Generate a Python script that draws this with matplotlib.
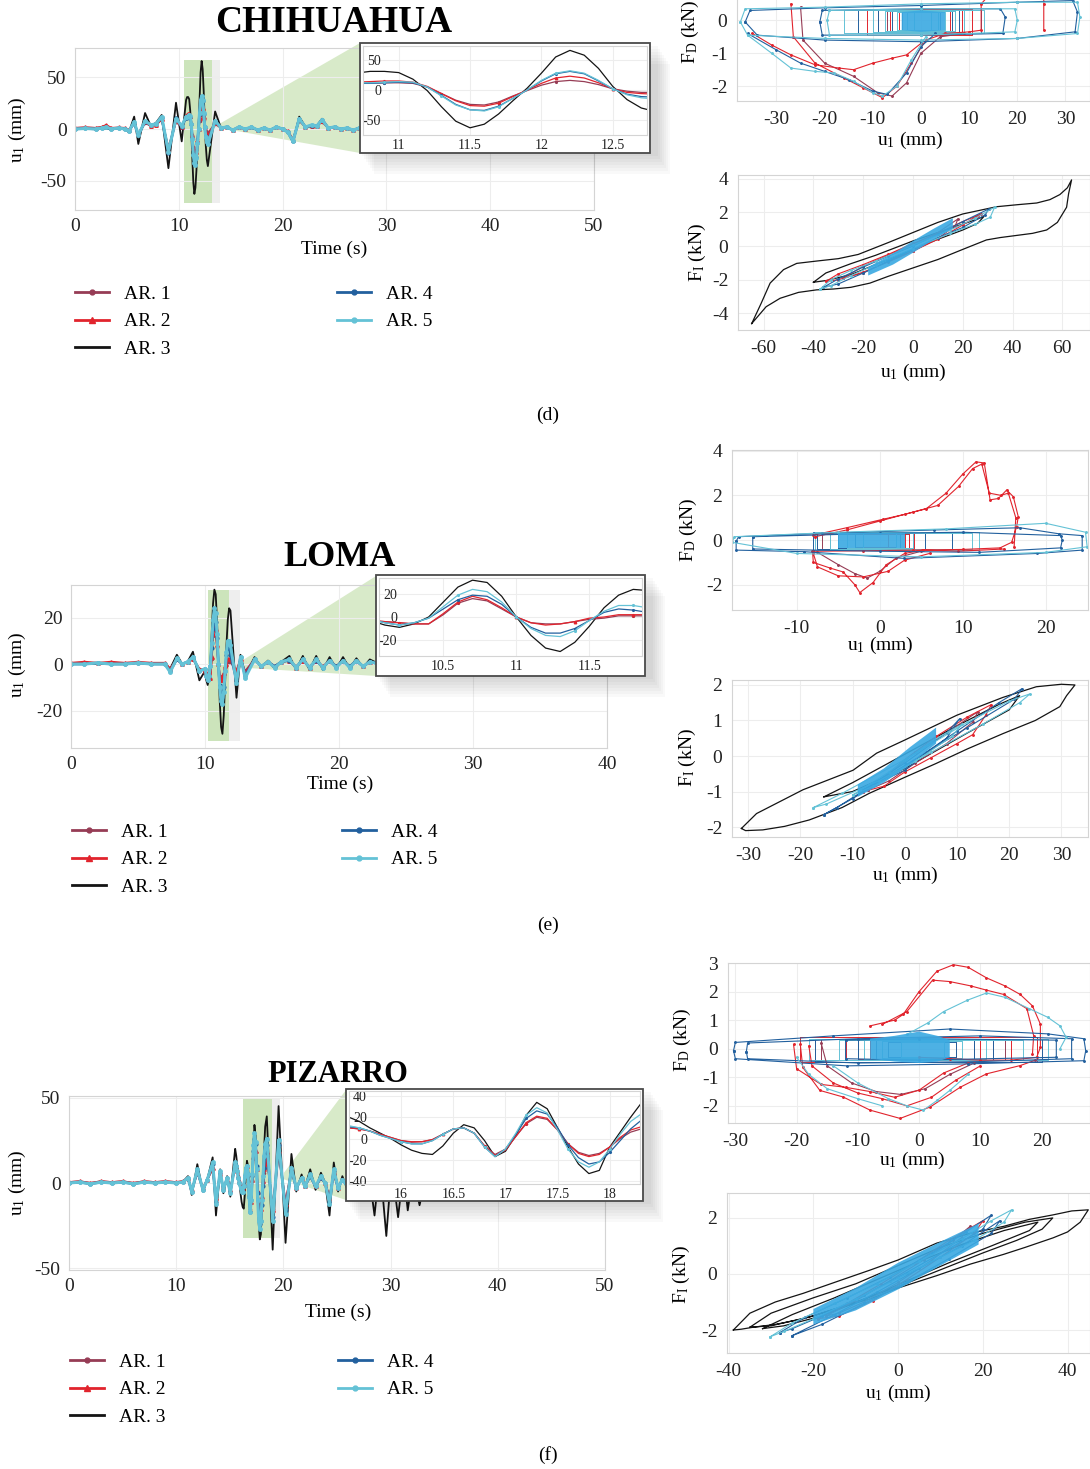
import numpy as np
import matplotlib
matplotlib.use("Agg")
import matplotlib.pyplot as plt
from matplotlib.lines import Line2D
from matplotlib.patches import Rectangle, Polygon

W, H = 1090, 1469
plt.rcParams['font.family'] = 'Liberation Serif'
plt.rcParams['mathtext.fontset'] = 'custom'
plt.rcParams['mathtext.rm'] = 'Liberation Serif'
plt.rcParams['axes.unicode_minus'] = False

C1, C2, C3, C4, C5 = '#963c55', '#e1242d', '#141414', '#22609e', '#64c2d6'
CORE = '#3aa9e2'
LABELS = ['AR. 1', 'AR. 2', 'AR. 3', 'AR. 4', 'AR. 5']

# ---------------- time histories u1 (mm) ----------------
chi_t = [0, 1, 2, 2.6, 3.0, 3.5, 4.2, 4.8, 5.2, 5.7, 6.1, 6.75, 7.3, 7.8, 8.35, 9.0, 9.73, 10.28,
         10.7, 10.8, 10.9, 11.0, 11.1, 11.2, 11.3, 11.4, 11.5, 11.6, 11.7, 11.8, 11.9, 12.0, 12.1, 12.2,
         12.3, 12.4, 12.5, 12.6, 12.7, 12.8,
         13.5, 14.1, 14.6, 15.2, 15.8, 16.4, 17.0, 17.6, 18.2, 18.8, 19.4, 20.0, 20.5, 21.0, 21.6, 22.2,
         22.8, 23.3, 23.8, 24.4, 25.0, 25.6, 26.2, 26.8, 27.4, 28.0, 30, 35, 40, 45, 50]
chi_ar3 = [0.5, 0, 0.5, 1, 0.5, 0, 1, 0, -3, 12, -14.5, 15.5, 3, 6, 13.6, -38, 25.5, -12,
           28, 31, 31, 29, 18, -1, -28, -52, -63, -57, -40, -18, 3, 28, 55, 66, 58, 36, 6, -16, -30, -36,
           17, 0, 2, -1, 2, 0, 2, -1, 1, -1, 2, 0, -3, -13, 12, 2, 4, 3, 10, 1, 2, 0, 1, -1, 1, 0, 1, 0, 0, 0, 0]
chi_ar5 = [0, 0.5, 0, 1, 2, 0, 1, 0, -2, 7, -6, 8, 4, 5, 12, -22, 10, 3,
           12, 12, 13, 14, 13, 5, -10, -25, -33, -35, -28, -14, 0, 16, 28, 32, 28, 16, 2, -8, -13, -15,
           8, 1, 2, -1, 2, 0, 2, -1, 1, -1, 2, 0, -3, -12, 10, 2, 4, 3, 9, 1, 2, 0, 1, -1, 1, 0, 1, 0, 0, 0, 0]
chi_ar4 = [0, 0.5, 0, 1, 1.5, 0, 1, 0, -2, 6, -6, 7, 4, 5, 11, -23, 11, 2,
           11, 11, 12, 13, 12, 5, -9, -24, -33, -34, -27, -14, 0, 15, 27, 31, 27, 15, 2, -7, -11, -12,
           7, 1, 2, -1, 2, 0, 1.5, -1, 1, -1, 2, 0, -3, -12, 10, 2, 3, 3, 9, 1, 2, 0, 1, -1, 1, 0, 1, 0, 0, 0, 0]
chi_ar2 = [1, 1.5, 1, 2, 4, 1, 1.5, 1, -1, 6, -5, 7, 3, 4, 10, -20, 8, 2,
           13, 14, 15, 15, 13, 6, -6, -18, -26, -27, -22, -11, 0, 11, 20, 23, 20, 12, 2, -4, -6, -7,
           6, 1, 2, -1, 2, 0, 1.5, -1, 1, -1, 2, 0, -2, -11, 9, 2, 3, 3, 8, 1, 2, 0, 1, -1, 1, 0, 1, 0, 0, 0, 0]
chi_ar1 = [1, 1.5, 1, 2, 3, 1, 1, 1, -1, 5, -5, 6, 3, 4, 9, -18, 7, 2,
           11, 12, 12, 12, 11, 5, -6, -17, -24, -25, -20, -10, -1, 8, 14, 16, 14, 9, 2, -2, -4, -4,
           5, 1, 2, -1, 2, 0, 1.5, -1, 1, -1, 2, 0, -2, -10, 8, 2, 3, 3, 7, 1, 2, 0, 1, -1, 1, 0, 1, 0, 0, 0, 0]

loma_t = [0, 1, 2, 3, 4, 5, 6, 7, 7.4, 7.9, 8.3, 8.7, 9.1, 9.58,
          10.0, 10.1, 10.2, 10.3, 10.4, 10.5, 10.6, 10.7, 10.8, 10.9, 11.0, 11.1, 11.2, 11.3, 11.4, 11.5,
          11.6, 11.7, 11.8, 11.9,
          12.35, 12.65, 13.0, 13.7, 14.2, 14.7, 15.2, 15.7, 16.3, 16.8, 17.3, 17.8, 18.3, 18.8, 19.3, 19.8,
          20.3, 20.8, 21.3, 21.8, 22.3, 23, 24, 25, 30, 35, 40]
loma_ar3 = [0, 0.5, 0, 0.5, 0, 0.5, 0, 0, -2, 4, 0, 1, 5.3, -7,
            -3, -7, -9, -6, 0, 13, 26, 32, 30, 18, 0, -16, -27, -30, -22, -8, 8, 19, 24, 23,
            -14.5, 4, -5, 3, -1.5, 1.5, -2, 1, 3.5, -2.5, 3.5, -2.5, 3.5, -2.5, 3, -2, 3, -2, 2.5, -1.5, 2, 0, 1, 0, 0, 0, 0]
loma_ar5 = [0, 0, 0.5, 0, 0, 0.5, 0, 0, -3.5, 2.5, 0, 1, 3, -3,
            -2, -5, -7, -5, -1, 9, 19, 24, 22, 13, 0, -10, -16, -17, -12, -3, 5, 10, 10, 8,
            -8, 3, -6, 2, -1, 1, -1.5, 1, 2, -1.5, 2, -1.5, 2, -1.5, 1.5, -1.5, 1.5, -1.5, 1.5, -1, 1, 0, 0.5, 0, 0, 0, 0]
loma_ar4 = [0, 0, 0.5, 0, 0, 0.5, 0, 0, -3, 2, 0, 1, 3, -3,
            -2, -5, -7, -5, -1, 7, 15, 19, 18, 11, 0, -9, -14, -14, -10, -3, 4, 7, 6, 4,
            -7, 3, -5, 2, -1, 1, -1, 1, 1.5, -1.5, 2, -1.5, 1.5, -1.5, 1.5, -1, 1.5, -1, 1.5, -1, 1, 0, 0, 0, 0, 0, 0]
loma_ar2 = [0.5, 1, 0.5, 1, 0.5, 1, 0.5, 0.5, -2, 2, 0, 1, 2, -2,
            -3, -4, -5, -6, -6, 3, 13, 18, 15, 8, 0, -5, -7, -6, -4, -1, 0, 2, 2, 2,
            -3, 2, -4, 2, -1, 1, -1, 1, 1.5, -1.5, 1.5, -1.5, 1.5, -1, 1.5, -1, 1.5, -1, 1.5, -1, 1, 0, 0, 0, 0, 0, 0]
loma_ar1 = [0.5, 0.5, 0.5, 0.5, 0.5, 0.5, 0.5, 0.5, -2, 2, 0, 1, 2, -2,
            -3, -4, -5, -6, -6, 2, 12, 16, 14, 7, 0, -5, -6, -6, -4, -2, -1, 1, 1, 1,
            -3, 2, -3, 2, -1, 1, -1, 1, 1.5, -1, 1.5, -1, 1.5, -1, 1, -1, 1, -1, 1, -1, 1, 0, 0, 0, 0, 0, 0]

piz_t = [0, 1, 2, 3, 4, 5, 6, 7, 8, 9, 10, 10.6, 11.1, 11.45, 11.97, 12.5, 12.9, 13.4, 13.71, 14.1, 14.4,
         14.75, 15.05,
         15.5, 15.6, 15.7, 15.8, 15.9, 16.0, 16.1, 16.2, 16.3, 16.4, 16.5, 16.6, 16.7, 16.8, 16.9, 17.0,
         17.1, 17.2, 17.3, 17.4, 17.5, 17.6, 17.7, 17.8, 17.9, 18.0, 18.1, 18.2, 18.3,
         18.45, 19.0, 19.55, 20.2, 20.75, 21.2, 21.7, 22.0, 22.5, 23.0, 23.5, 23.9, 24.3, 24.7, 25.1, 25.5,
         26.1, 26.7, 27.3, 27.9, 28.5, 29.0, 29.6, 30.1, 30.7, 31.2, 31.6, 32.1, 32.7, 33.3, 34, 36, 40, 45, 50]
piz_ar3 = [0, 0.5, -0.5, 1, 0, 0.5, -0.5, 0.5, 0, 0.5, 0, 0.5, 4, -7, 11, -5, 2, 15, -19, 8, -6, 4, -8,
           20, 16, 10, 5, 0, -6, -11, -14, -15, -7, 5, 13, 10, -2, -17, -12, 3, 22, 34, 28, 10, -8, -24, -33,
           -30, -8, 6, 20, 33,
           39, -39, 45, -35, 17, -5, 5, -3, 8, -4, 6, 0, -19, 12, -5, 4, -6, 8, -7, 10, -19, 12, -31, 10,
           -20, 8, -16, 6, -13, 4, -2, 1, 0, 0, 0]
piz_ar5 = [0, 0.5, -0.5, 0.5, 0, 0.5, -0.5, 0.5, 0, 0.5, 0, 0.5, 3, -5, 8, -4, 2, 12, -12, 7, -4, 3, -6,
           12, 10, 7, 3, 0, -3, -5, -5, -2, 4, 9, 10, 5, -8, -17, -10, 5, 22, 29, 24, 8, -10, -22, -27,
           -22, -10, 4, 16, 23,
           26, -22, 25, -18, 9, -3, 3, -2, 5, -2, 4, 0, -12, 8, -3, 2, -3, 3, -3, 3, -5, 4, -6, 3,
           -4, 2, -3, 2, -2, 1, -1, 0.5, 0, 0, 0]
piz_ar4 = [0, 0.5, -0.5, 0.5, 0, 0.5, -0.5, 0.5, 0, 0.5, 0, 0.5, 3, -5, 7, -4, 2, 11, -11, 6, -4, 3, -5,
           11, 10, 7, 3, 0, -3, -5, -5, -2, 4, 9, 10, 5, -8, -17, -10, 4, 19, 26, 23, 10, -6, -18, -24,
           -22, -13, -2, 9, 17,
           22, -20, 22, -16, 8, -3, 3, -2, 4, -2, 3, 0, -11, 7, -3, 2, -3, 3, -3, 3, -4, 3, -5, 3,
           -4, 2, -3, 2, -2, 1, -1, 0.5, 0, 0, 0]
piz_ar2 = [0.5, 1, 0, 1, 0.5, 1, 0, 1, 0.5, 1, 0.5, 1, 3, -4, 6, -3, 2, 9, -9, 5, -3, 2, -4,
           10, 9, 7, 4, 1, -2, -3, -3, -1, 4, 9, 10, 5, -7, -16, -11, 2, 15, 21, 19, 8, -5, -14, -17,
           -15, -8, 1, 8, 11,
           18, -16, 19, -12, 8, -3, 3, -2, 4, -2, 3, 0, -9, 6, -3, 2, -2, 2, -2, 2, -3, 2, -4, 2,
           -3, 2, -2, 1, -2, 1, -1, 0.5, 0, 0, 0]
piz_ar1 = [0.5, 1, 0, 1, 0.5, 1, 0, 1, 0.5, 1, 0.5, 1, 2, -4, 6, -3, 2, 8, -8, 5, -3, 2, -4,
           10, 9, 7, 4, 1, -2, -3.5, -3, -1, 4, 9, 10, 5, -7, -15, -10, 2, 14, 20, 18, 8, -5, -13, -16,
           -14, -8, 0, 6, 9,
           16, -15, 17, -11, 7, -3, 3, -2, 4, -2, 3, 0, -8, 5, -3, 2, -2, 2, -2, 2, -3, 2, -4, 2,
           -3, 2, -2, 1, -2, 1, -1, 0.5, 0, 0, 0]

# ---------------- hysteresis loops (u1 mm, F kN), None separates loops ----------------
chi_fd_ar4_u = [-36.5, -35.5, -20, 0, 20, 31.5, 32.5, 32, 20, 0, -20, -34, -36.5, None,
                -21, -20.5, 0, 16.5, 17.5, 17, 0, -20.5, -21, None,
                -36, -30, -25, -20, -15, -10, -7, -3, 0, 3]
chi_fd_ar4_f = [-0.05, 0.3, 0.38, 0.45, 0.55, 0.6, 0.25, -0.35, -0.55, -0.65, -0.6, -0.45, -0.05, None,
                -0.05, 0.3, 0.35, 0.35, 0.1, -0.4, -0.45, -0.45, -0.05, None,
                -0.4, -0.9, -1.3, -1.55, -1.8, -2.15, -2.25, -1.6, -0.8, -0.4]
chi_fd_ar5_u = [-37.5, -36.5, -20, 0, 20, 32.5, 33, 32.5, 20, 0, -20, -36, -37.5, None,
                -36, -31, -27, -22, -18, -14, -10, -8, -5, -2, 1, None,
                -19, 0, 19.5, 20, 19.5, 0, -19, -19.5, -19]
chi_fd_ar5_f = [-0.05, 0.35, 0.4, 0.5, 0.55, 0.55, 0.1, -0.4, -0.55, -0.6, -0.55, -0.45, -0.05, None,
                -0.45, -1.0, -1.45, -1.55, -1.6, -1.85, -2.2, -2.3, -2.0, -1.2, -0.5, None,
                0.3, 0.35, 0.35, 0, -0.35, -0.45, -0.45, 0, 0.3]
chi_fd_ar2_u = [-27, -26.5, -22, -16, -12, -8, -5, -2, 1, 5, 10, 12.5, 12.5, 15, 18, 22, 25, None,
                -35, -31, -27, -22, -17, -14, -10, -6, -3, 0, None,
                25.5, 25.5, 25.5]
chi_fd_ar2_f = [0.5, -0.5, -1.3, -1.75, -2.05, -2.35, -2.0, -1.3, -0.6, -0.4, -0.35, -0.3, 0.5, 0.9, 1.5, 2.0, 2.3, None,
                -0.4, -0.75, -1.05, -1.35, -1.45, -1.5, -1.3, -1.15, -1.05, -0.7, None,
                2.3, 0.5, -0.3]
chi_fd_ar1_u = [-25, -24.5, -20, -14, -9, -6, -3, 0, 4, 9]
chi_fd_ar1_f = [0.4, -0.6, -1.3, -1.7, -2.2, -2.3, -1.9, -1.0, -0.5, -0.4]
chi_fd_ar5_boxes = [(-16, 13, 0.3, -0.4), (-10, 9, 0.3, -0.35), (-7.5, 7, 0.28, -0.33),
                    (-5, 5, 0.25, -0.3), (-3, 3.5, 0.25, -0.3), (-1.5, 2, 0.25, -0.3)]
chi_fd_ar4_boxes = [(-13, 12.5, 0.3, -0.4), (-9, 8, 0.3, -0.35), (-6, 6.5, 0.28, -0.32), (-4, 4, 0.25, -0.3)]
chi_fd_ar2_boxes = [(-11.3, 10.5, 0.35, -0.45), (-9, 8.5, 0.32, -0.4), (-6.5, 6, 0.3, -0.38), (-4.5, 4, 0.3, -0.35)]
chi_fd_ar1_boxes = [(-10, 9, 0.3, -0.4), (-7, 7, 0.3, -0.35)]
chi_fd_core_u = [-4, 0, 5, 5, 0, -4]
chi_fd_core_f = [0.25, 0.3, 0.25, -0.3, -0.35, -0.3]

chi_fi_ar3_u = [-64.8, -61, -57.4, -52, -46.7, -38.6, -30, -22, -10, 0, 10, 20, 33.6, 42, 49.7, 55, 59, 62, 63.7,
                62.5, 61.7, 58, 53.7, 48, 42.8, 35, 29.5, 20, 10, 0, -10, -17.3, -25, -32, -38.7, -46, -53.4,
                -59, -64.8, None,
                -40, -35, -25, -15, 0, 15, 25, 28.5, 26, 20, 10, 0, -15, -25, -35, -40]
chi_fi_ar3_f = [-4.6, -3.4, -2.2, -1.4, -1.03, -0.89, -0.75, -0.5, 0.2, 0.8, 1.4, 1.9, 2.33, 2.45, 2.55, 2.75,
                3.05, 3.45, 3.92, 3.1, 2.3, 1.4, 0.95, 0.75, 0.65, 0.5, 0.36, -0.2, -0.8, -1.3, -1.8, -2.2,
                -2.45, -2.55, -2.6, -2.75, -3.1, -3.6, -4.6, None,
                -2.15, -1.6, -1.05, -0.55, 0.3, 1.05, 1.55, 1.75, 1.35, 0.95, 0.4, -0.2, -1.1, -1.7, -2.05, -2.15]
chi_fi_ar5_u = [-37.3, -33, -25, -15, 0, 15, 25, 32.8, 31, 25, 15, 0, -15, -25, -33, -37.3]
chi_fi_ar5_f = [-2.55, -2.0, -1.45, -0.9, 0.05, 0.95, 1.65, 2.3, 1.7, 1.3, 0.75, -0.15, -1.1, -1.75, -2.35, -2.55]
chi_fi_ar4_u = [-36, -30, -20, -10, 0, 10, 20, 30.5, 29, 20, 10, 0, -10, -20, -30, -36]
chi_fi_ar4_f = [-2.45, -1.95, -1.25, -0.6, 0.0, 0.7, 1.45, 2.2, 1.85, 1.1, 0.5, -0.2, -0.9, -1.6, -2.25, -2.45]
chi_fi_ar2_u = [-35, -30, -20, -10, 0, 10, 20, 27.5, 26, 20, 10, 0, -10, -20, -30, -35]
chi_fi_ar2_f = [-2.1, -1.65, -1.1, -0.5, 0.15, 0.75, 1.45, 1.9, 1.8, 1.25, 0.4, -0.3, -0.95, -1.55, -2.0, -2.1]
chi_fi_ar1_u = [-28, -20, -10, 0, 10, 18, 17, 10, 0, -10, -20, -28]
chi_fi_ar1_f = [-1.9, -1.2, -0.55, 0.1, 0.8, 1.6, 1.2, 0.45, -0.3, -0.9, -1.6, -1.9]
chi_fi_core_u = [-18, -8, 0, 8, 16, 16, 8, 0, -8, -18]
chi_fi_core_f = [-1.25, -0.45, 0.3, 1.0, 1.65, 1.05, 0.35, -0.4, -1.1, -1.75]

loma_fd_ar2_u = [-8, -4, 0.4, 3, 5.6, 8, 10, 11.6, 12.6, 13.3, 14.3, 15.3, 16.1, 16.7, 16.5, 15.9, 14.5, 10, 4, -2, -8, None,
                 -7.8, -4, 0, 4, 7, 9.5, 11.2, 12.3, 13.2, 14.6, 15.5, 16.4, 16.2, None,
                 -8.1, -8, -6, -4.4, -3, -2.4, -0.8, 0.8, 3, 5.2, 9.4, 15, None,
                 -8, -7.5, -5, -2, 1, 3, 6]
loma_fd_ar2_f = [0.22, 0.55, 0.93, 1.15, 1.4, 2.1, 2.95, 3.5, 3.45, 1.8, 1.86, 2.24, 1.94, 1.04, 0.6, -0.1, -0.35, -0.42, -0.45, -0.48, -0.5, None,
                 0.15, 0.45, 0.85, 1.25, 1.55, 2.4, 3.2, 3.4, 2.1, 2.0, 2.1, 1.0, -0.3, None,
                 -0.5, -1.0, -1.25, -1.43, -2.0, -2.35, -1.9, -1.1, -0.6, -0.45, -0.5, -0.4, None,
                 -0.6, -1.2, -1.6, -1.65, -1.4, -0.9, -0.6]
loma_fd_ar1_u = [-7.5, -5, -3, -1.5, 0, 2, 5]
loma_fd_ar1_f = [-0.55, -1.1, -1.5, -1.7, -1.4, -0.8, -0.5]
loma_fd_ar4_u = [-17.3, -17, -7, 6.5, 16.9, 21.6, 24.4, 24.4, 19, 2.9, -9.1, -17.3, -17.3, None,
                 -15.3, -15.3, 0, 12, 21.8, 22, 21.8, 10, 0, -15.3]
loma_fd_ar4_f = [-0.05, 0.15, 0.3, 0.45, 0.55, 0.28, 0.2, -0.45, -0.6, -0.82, -0.52, -0.45, -0.05, None,
                 0.15, -0.4, -0.5, -0.55, -0.35, 0.0, 0.2, 0.35, 0.3, 0.15]
loma_fd_ar5_u = [-17.8, -17.5, -5, 8, 20, 24.8, 25, 20, 5, -10, -17.8]
loma_fd_ar5_f = [-0.1, 0.15, 0.35, 0.5, 0.75, 0.35, -0.3, -0.55, -0.75, -0.6, -0.1]
loma_fd_ar4_boxes = [(-8, 8.7, 0.35, -0.45), (-7.6, 5.5, 0.35, -0.4), (-5, 4, 0.3, -0.35), (-3, 2.5, 0.3, -0.35)]
loma_fd_ar5_boxes = [(-7.8, 12, 0.35, -0.45), (-6, 11.1, 0.3, -0.4), (-4, 4, 0.3, -0.35), (-2, 2, 0.3, -0.35)]
loma_fd_ar2_boxes = [(-7.6, 4.1, 0.3, -0.45), (-6, 3.5, 0.3, -0.4), (-4, 3, 0.25, -0.35), (-2, 1, 0.25, -0.3)]
loma_fd_ar1_boxes = [(-7, 3.5, 0.25, -0.4), (-3, 2, 0.25, -0.3)]
loma_fd_core_u = [-5, 3, 3, -5]
loma_fd_core_f = [0.3, 0.3, -0.35, -0.35]

loma_fi_ar3_u = [-31.3, -28.4, -19.5, -9.9, -5.4, 0, 10, 18.8, 25.2, 30, 32.6, 31, 29.7, 25, 18.8, 12, 6, 0, -6.8,
                 -12, -18.3, -23, -27.2, -30.5, -31.3, None,
                 -15.5, -10, 0, 10, 18, 22, 20, 12, 0, -10, -15.5]
loma_fi_ar3_f = [-2.04, -1.62, -0.95, -0.4, 0.08, 0.45, 1.15, 1.65, 1.95, 2.02, 2.0, 1.7, 1.39, 1.0, 0.63, 0.2,
                 -0.21, -0.6, -1.05, -1.45, -1.8, -1.98, -2.08, -2.1, -2.04, None,
                 -1.15, -0.75, 0.05, 0.85, 1.45, 1.7, 1.3, 0.65, -0.35, -1.0, -1.15]
loma_fi_ar5_u = [-17.5, -12, 0, 12, 20, 24, 22, 15, 5, -5, -15, -17.5, None,
                 -10, -3, 5, 11, 9, 2, -6, -10]
loma_fi_ar5_f = [-1.45, -1.05, -0.1, 0.95, 1.55, 1.75, 1.5, 0.9, 0.1, -0.7, -1.35, -1.45, None,
                 -1.1, -0.45, 0.4, 0.9, 0.55, -0.15, -0.85, -1.1]
loma_fi_ar4_u = [-15.5, -10, 0, 10, 18, 22.5, 21, 12, 3, -6, -13, -15.5, None,
                 -8, 0, 8, 10.5, 8, 0, -8]
loma_fi_ar4_f = [-1.65, -1.2, -0.3, 0.7, 1.5, 1.9, 1.6, 0.8, 0.0, -0.8, -1.45, -1.65, None,
                 -0.95, -0.2, 0.65, 1.05, 0.5, -0.4, -0.95]
loma_fi_ar2_u = [-8, -4, 0, 6, 12, 16.6, 15.5, 13, 10, 5, 0, -4, -8]
loma_fi_ar2_f = [-1.0, -0.6, -0.1, 0.55, 1.1, 1.45, 1.15, 0.6, 0.35, -0.05, -0.45, -0.85, -1.0]
loma_fi_ar1_u = [-7, -3, 2, 8, 14, 13, 8, 2, -3, -7]
loma_fi_ar1_f = [-0.95, -0.5, 0.1, 0.65, 1.25, 0.95, 0.35, -0.2, -0.7, -0.95]
loma_fi_core_u = [-9, -4, 1, 6, 6, 1, -4, -9]
loma_fi_core_f = [-0.8, -0.35, 0.25, 0.8, 0.35, -0.25, -0.75, -1.15]

piz_fd_ar2_u = [-8, -4, -2.6, 0, 2.9, 5.6, 8, 11, 14, 16.5, 18.5, 19.8, 19.8, 19.2, 15, 10, 5, 0, None,
                -6, -2, 2.2, 5, 8.4, 11, 13.8, 17.6, 18.7, 18.5, None,
                -19.4, -19, -16.2, -12.4, -8, -3.1, 1.8, 6.7, 11, 16.5, 19, None,
                -18, -17.5, -14, -10, -6, -2, 2, 6, 10, None,
                -20.5, -20, -16, -12, -8, -4, 0, 4, 8]
piz_fd_ar2_f = [0.8, 1.0, 1.2, 2.0, 2.71, 2.94, 2.85, 2.48, 2.2, 1.9, 1.5, 0.86, 0.05, -0.3, -0.4, -0.4, -0.35, -0.3, None,
                0.85, 1.3, 2.4, 2.35, 2.2, 2.05, 1.9, 1.4, 0.46, -0.2, None,
                0.16, -0.65, -1.46, -1.69, -2.15, -2.44, -2.04, -1.35, -0.88, -0.59, -0.4, None,
                0.1, -0.6, -1.2, -1.55, -1.75, -2.0, -1.7, -1.1, -0.6, None,
                0.15, -0.7, -1.25, -1.35, -1.5, -1.7, -1.45, -0.85, -0.5]
piz_fd_ar1_u = [-16, -15, -11, -7, -3, 1, 5, 9]
piz_fd_ar1_f = [0.2, -0.6, -1.2, -1.5, -1.6, -1.4, -0.9, -0.5]
piz_fd_ar4_u = [-30.3, -30, -14, 5, 21, 26.9, 27.2, 26.9, 8, -11.8, -30, -30.3, None,
                -28.2, -28, -10, 10, 24.9, 24.9, 10, -10, -28, -28.2, None,
                -12, -12, 0, 22.4, 22.4, 0, -12]
piz_fd_ar4_f = [-0.07, 0.22, 0.45, 0.69, 0.52, 0.35, -0.07, -0.42, -0.53, -0.6, -0.35, -0.07, None,
                -0.1, 0.2, 0.35, 0.45, 0.35, -0.35, -0.45, -0.5, -0.35, -0.1, None,
                0.3, -0.35, -0.4, -0.3, 0.3, 0.35, 0.3]
piz_fd_ar5_u = [-2, 1.4, 4, 7.9, 11, 14, 18, 21, 23, 24, 23, None,
                -14, -10, -5, -2, 0.7, 3, 5, 8, None,
                -20, -18, -15, -10, -6]
piz_fd_ar5_f = [0.5, 0.9, 1.3, 1.7, 1.95, 1.8, 1.4, 1.1, 0.8, 0.4, 0.0, None,
                -0.6, -1.2, -1.75, -2.0, -2.15, -1.8, -1.46, -0.9, None,
                -0.3, -0.9, -1.4, -1.75, -2.0]
piz_fd_ar4_boxes = [(-17, 20, 0.35, -0.45), (-10, 12, 0.3, -0.4), (-7, 9, 0.3, -0.35), (-5, 6, 0.25, -0.3)]
piz_fd_ar5_boxes = [(-18, 21, 0.35, -0.4), (-13, 17, 0.3, -0.4), (-9, 11, 0.3, -0.35), (-6, 7, 0.28, -0.32),
                    (-3, 4, 0.25, -0.3)]
piz_fd_ar2_boxes = [(-19.4, 19.2, 0.4, -0.45), (-17, 15, 0.35, -0.45), (-12, 12, 0.35, -0.4), (-8, 10, 0.3, -0.4),
                    (-5, 6, 0.3, -0.35)]
piz_fd_ar1_boxes = [(-16, 14, 0.35, -0.4), (-10, 9, 0.3, -0.35)]
piz_fd_core_u = [-8, -4, 0, 3, 5, 5, 3, 0, -4, -8]
piz_fd_core_f = [0.35, 0.45, 0.6, 0.45, 0.3, -0.3, -0.45, -0.5, -0.45, -0.35]

piz_fi_ar3_u = [-38.9, -35, -29, -22.4, -15, -6.6, 0, 9.1, 17, 24.9, 31, 36.6, 41, 44.9, 43, 40, 36.6, 30, 24.9, 17,
                9.1, 0, -6.6, -15, -22.4, -29, -34.2, -37, -38.9, None,
                -35, -30, -20, -10, 0, 10, 20, 30, 36.5, 34, 28, 20, 10, 0, -10, -20, -30, -35, None,
                -32, -25, -15, -5, 5, 15, 25, 33, 31, 22, 12, 2, -8, -18, -27, -32]
piz_fi_ar3_f = [-2.0, -1.4, -1.0, -0.69, -0.3, 0.14, 0.5, 1.1, 1.45, 1.7, 1.95, 2.11, 2.25, 2.29, 1.85, 1.5, 1.29,
                0.95, 0.7, 0.35, -0.06, -0.5, -0.89, -1.25, -1.6, -1.8, -1.9, -1.97, -2.0, None,
                -1.9, -1.4, -0.85, -0.35, 0.3, 0.95, 1.45, 1.85, 2.0, 1.6, 1.2, 0.75, 0.15, -0.45, -1.0, -1.5,
                -1.85, -1.9, None,
                -1.95, -1.45, -0.85, -0.2, 0.45, 1.05, 1.55, 1.85, 1.55, 1.0, 0.4, -0.25, -0.9, -1.5, -1.85, -1.95]
piz_fi_ar5_u = [-30.2, -25, -15, -5, 5, 15, 22, 26.8, 25, 18, 10, 0, -10, -20, -27, -30.2]
piz_fi_ar5_f = [-2.24, -1.75, -1.05, -0.35, 0.45, 1.25, 1.9, 2.29, 1.85, 1.2, 0.6, -0.15, -0.9, -1.6, -2.05, -2.24]
piz_fi_ar4_u = [-28, -22, -12, -2, 8, 16, 22, 20, 12, 2, -8, -18, -25, -28, None,
                -25, -15, -5, 5, 15, 24, 22, 12, 2, -8, -18, -25]
piz_fi_ar4_f = [-2.1, -1.55, -0.85, -0.1, 0.75, 1.5, 2.1, 1.6, 0.9, 0.05, -0.75, -1.5, -1.95, -2.1, None,
                -2.2, -1.45, -0.65, 0.2, 1.0, 1.9, 1.45, 0.55, -0.3, -1.05, -1.8, -2.2]
piz_fi_ar2_u = [-19, -12, -4, 4, 12, 20, 18, 10, 2, -6, -14, -19]
piz_fi_ar2_f = [-1.6, -1.05, -0.35, 0.4, 1.2, 1.9, 1.45, 0.6, -0.2, -0.95, -1.5, -1.6]
piz_fi_ar1_u = [-17, -10, -2, 6, 13, 17, 15, 8, 0, -8, -14, -17]
piz_fi_ar1_f = [-1.5, -0.95, -0.25, 0.5, 1.2, 1.7, 1.3, 0.5, -0.3, -1.0, -1.4, -1.5]
piz_fi_core_u = [-20, -10, 0, 10, 19, 19, 10, 0, -10, -20]
piz_fi_core_f = [-1.25, -0.5, 0.4, 1.15, 1.8, 1.05, 0.3, -0.55, -1.3, -1.8]


def frac(l, t, r, b):
    return [l / W, 1 - b / H, (r - l) / W, (b - t) / H]


def pt(x, y):
    return (x / W, 1 - y / H)


def style(ax, size=14, pad=6):
    for s in ax.spines.values():
        s.set_color('#d4d4d4')
        s.set_linewidth(0.8)
    ax.grid(True, color='#ededed', lw=0.8)
    ax.set_axisbelow(True)
    ax.tick_params(length=0, labelsize=size, pad=pad, colors='#222222')


def series_lines(ax, t, ys, thin=False):
    # black (passive) first, coloured runs on top
    a1, a2, a3, a4, a5 = ys
    if thin:
        kw = dict(lw=0.9, ms=2.5, markevery=4)
        ax.plot(t, a3, color=C3, lw=0.9)
        ax.plot(t, a1, color=C1, marker='.', **kw)
        ax.plot(t, a2, color=C2, marker='^', **dict(kw, ms=1.8))
        ax.plot(t, a4, color=C4, marker='.', **kw)
        ax.plot(t, a5, color=C5, marker='.', **kw)
    else:
        ax.plot(t, a3, color=C3, lw=1.3)
        ax.plot(t, a1, color=C1, lw=1.4, marker='.', ms=3)
        ax.plot(t, a2, color=C2, lw=1.4, marker='^', ms=2.5)
        ax.plot(t, a4, color=C4, lw=1.8, marker='.', ms=4)
        ax.plot(t, a5, color=C5, lw=2.2, marker='.', ms=5)


def record(main, xmax, ylim, yticks, t, ys, title, title_xy, title_size, win, box, inner, ixlim, iylim, ixt, iyt,
           cone, leg_y, leg_x, panel, panel_y, label_y, xlabel_xy):
    ax = fig.add_axes(frac(*main))
    ax.set_facecolor('none')
    style(ax, pad=6)
    ax.set_xlim(0, xmax)
    ax.set_ylim(*ylim)
    ax.set_xticks(np.arange(0, xmax + 1, 10))
    ax.set_yticks(yticks)
    ax.add_patch(Rectangle((win[0], win[2]), win[1] - win[0], win[3] - win[2], fc='#bcdba4', ec='none',
                           alpha=0.75, zorder=0.5))
    ax.add_patch(Rectangle((win[1], win[2]), 0.8, win[3] - win[2], fc='#e4e4e4', ec='none', alpha=0.6, zorder=0.4))
    series_lines(ax, t, ys)

    # zoom cone towards the inset
    fig.patches.append(Polygon([pt(*p) for p in cone], closed=True, transform=fig.transFigure,
                               fc='#cfe5bc', ec='none', alpha=0.8, zorder=-1))

    # inset frame with soft shadow
    l, tp, r, b = box
    for k in range(1, 8):
        fig.patches.append(Rectangle(pt(l + 2 * k, b + 3 * k), (r - l + 6) / W, (b - tp) / H,
                                     transform=fig.transFigure, fc='k', ec='none', alpha=0.022, zorder=4))
    fig.patches.append(Rectangle(pt(l, b), (r - l) / W, (b - tp) / H, transform=fig.transFigure,
                                 fc='white', ec='#4a4a4a', lw=1.3, zorder=5))
    ia = fig.add_axes(frac(*inner), zorder=6)
    style(ia, size=10, pad=3)
    ia.tick_params(axis='y', pad=-13)
    ia.set_xlim(*ixlim)
    ia.set_ylim(*iylim)
    ia.set_xticks(ixt)
    ia.set_yticks(iyt)
    ia.xaxis.set_major_formatter(plt.FormatStrFormatter('%g'))
    series_lines(ia, t, ys, thin=True)

    fig.text(*pt(*title_xy), title, fontsize=title_size, fontweight='bold', ha='center', va='center', zorder=10)
    fig.text(*pt(17, label_y), r'$\mathregular{u_1}$ (mm)', fontsize=14, rotation=90, ha='center', va='center')
    fig.text(*pt(*xlabel_xy), 'Time (s)', fontsize=14, ha='center', va='center')
    fig.text(*pt(548, panel_y), panel, fontsize=14, ha='center', va='center')

    hs = [Line2D([], [], color=C1, lw=2, marker='.', ms=7),
          Line2D([], [], color=C2, lw=2, marker='^', ms=4),
          Line2D([], [], color=C3, lw=2),
          Line2D([], [], color=C4, lw=2, marker='.', ms=7),
          Line2D([], [], color=C5, lw=2, marker='.', ms=7)]
    common = dict(loc='upper left', frameon=False, fontsize=14, handlelength=1.75, handletextpad=0.75,
                  labelspacing=0.52, borderpad=0, borderaxespad=0, bbox_transform=fig.transFigure)
    fig.legend(hs[:3], LABELS[:3], bbox_to_anchor=pt(leg_x[0], leg_y), **common)
    fig.legend(hs[3:], LABELS[3:], bbox_to_anchor=pt(leg_x[1], leg_y), **common)


def hyst_axes(rect, xlim, ylim, xt, yt, ylab, ylab_xy, xlab_xy):
    ax = fig.add_axes(frac(*rect))
    style(ax, pad=7)
    ax.set_xlim(*xlim)
    ax.set_ylim(*ylim)
    ax.set_xticks(xt)
    ax.set_yticks(yt)
    fig.text(*pt(*ylab_xy), ylab, fontsize=14, rotation=90, ha='center', va='center')
    fig.text(*pt(*xlab_xy), r'$\mathregular{u_1}$ (mm)', fontsize=14, ha='center', va='center')
    return ax


def loop(ax, u, f, color, lw=0.8, marks=True):
    u = np.array(u, dtype=float)
    f = np.array(f, dtype=float)
    if marks:
        ax.plot(u, f, color=color, lw=lw, marker='.', ms=2.2)
    else:
        ax.plot(u, f, color=color, lw=lw)


def boxes(ax, items, color):
    for l, r, top, bot in items:
        ax.plot([l, l, r, r, l], [bot, top, top, bot, bot], color=color, lw=0.7)


def core(ax, u, f):
    ax.fill(u, f, color=CORE, alpha=0.9, lw=0, zorder=3)


FD = r'$\mathregular{F_D}$ (kN)'
FI = r'$\mathregular{F_I}$ (kN)'

fig = plt.figure(figsize=(W / 100, H / 100), dpi=100)

# ---- (d) Chihuahua ----
record(main=(75, 48, 594, 210), xmax=50, ylim=(-78.6, 78.6), yticks=[-50, 0, 50], t=chi_t,
       ys=(chi_ar1, chi_ar2, chi_ar3, chi_ar4, chi_ar5), title='CHIHUAHUA', title_xy=(334, 22), title_size=27,
       win=(10.5, 13.2, -72, 67), box=(360, 43, 650, 153), inner=(363, 46, 647, 135),
       ixlim=(10.75, 12.74), iylim=(-75, 73.3), ixt=[11, 11.5, 12, 12.5], iyt=[-50, 0, 50],
       cone=[(214, 127), (360, 43), (360, 153)], leg_y=285, leg_x=(75, 337), panel='(d)', panel_y=415,
       label_y=130, xlabel_xy=(334, 249))

ax = hyst_axes((737, -62, 1090, 101), (-38.2, 35.1), (-2.45, 2.5), np.arange(-30, 31, 10), [-2, -1, 0],
               FD, (690, 32), (910, 140))
core(ax, chi_fd_core_u, chi_fd_core_f)
boxes(ax, chi_fd_ar1_boxes, C1)
boxes(ax, chi_fd_ar2_boxes, C2)
boxes(ax, chi_fd_ar4_boxes, C4)
boxes(ax, chi_fd_ar5_boxes, C5)
loop(ax, chi_fd_ar1_u, chi_fd_ar1_f, C1)
loop(ax, chi_fd_ar2_u, chi_fd_ar2_f, C2)
loop(ax, chi_fd_ar4_u, chi_fd_ar4_f, C4)
loop(ax, chi_fd_ar5_u, chi_fd_ar5_f, C5)

ax = hyst_axes((738, 175, 1090, 330), (-70.3, 71.1), (-4.98, 4.21), np.arange(-60, 61, 20), [-4, -2, 0, 2, 4],
               FI, (697, 253), (913, 372))
loop(ax, chi_fi_ar3_u, chi_fi_ar3_f, C3, lw=0.9, marks=False)
loop(ax, chi_fi_ar1_u, chi_fi_ar1_f, C1)
loop(ax, chi_fi_ar2_u, chi_fi_ar2_f, C2)
loop(ax, chi_fi_ar4_u, chi_fi_ar4_f, C4)
loop(ax, chi_fi_ar5_u, chi_fi_ar5_f, C5)
core(ax, chi_fi_core_u, chi_fi_core_f)

# ---- (e) Loma ----
record(main=(71, 585, 607, 748), xmax=40, ylim=(-36.1, 34), yticks=[-20, 0, 20], t=loma_t,
       ys=(loma_ar1, loma_ar2, loma_ar3, loma_ar4, loma_ar5), title='LOMA', title_xy=(340, 558), title_size=26,
       win=(10.2, 11.8, -33, 32), box=(376, 575, 645, 676), inner=(379, 578, 642, 656),
       ixlim=(10.06, 11.86), iylim=(-33.9, 33.9), ixt=[10.5, 11, 11.5], iyt=[-20, 0, 20],
       cone=[(232, 667), (376, 576), (376, 676)], leg_y=823, leg_x=(72, 342), panel='(e)', panel_y=925,
       label_y=665, xlabel_xy=(340, 784))

ax = hyst_axes((732, 450, 1088, 610), (-17.8, 25.1), (-3.13, 4.03), [-10, 0, 10, 20], [-2, 0, 2, 4],
               FD, (688, 530), (880, 645))
core(ax, loma_fd_core_u, loma_fd_core_f)
boxes(ax, loma_fd_ar1_boxes, C1)
boxes(ax, loma_fd_ar2_boxes, C2)
boxes(ax, loma_fd_ar4_boxes, C4)
boxes(ax, loma_fd_ar5_boxes, C5)
loop(ax, loma_fd_ar1_u, loma_fd_ar1_f, C1)
loop(ax, loma_fd_ar2_u, loma_fd_ar2_f, C2)
loop(ax, loma_fd_ar4_u, loma_fd_ar4_f, C4)
loop(ax, loma_fd_ar5_u, loma_fd_ar5_f, C5)

ax = hyst_axes((732, 680, 1088, 837), (-33.1, 35.1), (-2.28, 2.14), np.arange(-30, 31, 10), [-2, -1, 0, 1, 2],
               FI, (687, 758), (905, 875))
loop(ax, loma_fi_ar3_u, loma_fi_ar3_f, C3, lw=0.9, marks=False)
loop(ax, loma_fi_ar1_u, loma_fi_ar1_f, C1)
loop(ax, loma_fi_ar2_u, loma_fi_ar2_f, C2)
loop(ax, loma_fi_ar4_u, loma_fi_ar4_f, C4)
loop(ax, loma_fi_ar5_u, loma_fi_ar5_f, C5)
core(ax, loma_fi_core_u, loma_fi_core_f)

# ---- (f) Pizarro ----
record(main=(69, 1096, 605, 1270), xmax=50, ylim=(-50.9, 50.9), yticks=[-50, 0, 50], t=piz_t,
       ys=(piz_ar1, piz_ar2, piz_ar3, piz_ar4, piz_ar5), title='PIZARRO', title_xy=(338, 1075), title_size=22,
       win=(16.2, 18.9, -32, 49), box=(346, 1089, 643, 1201), inner=(349, 1091, 640, 1184),
       ixlim=(15.5, 18.29), iylim=(-42.8, 44.7), ixt=[16, 16.5, 17, 17.5, 18], iyt=[-40, -20, 0, 20, 40],
       cone=[(280, 1178), (346, 1090), (346, 1200)], leg_y=1353, leg_x=(70, 338), panel='(f)', panel_y=1455,
       label_y=1183, xlabel_xy=(338, 1312))

ax = hyst_axes((728, 963, 1090, 1123), (-31.2, 27.9), (-2.6, 2.95), np.arange(-30, 21, 10), [-2, -1, 0, 1, 2, 3],
               FD, (682, 1040), (912, 1160))
core(ax, piz_fd_core_u, piz_fd_core_f)
boxes(ax, piz_fd_ar1_boxes, C1)
boxes(ax, piz_fd_ar2_boxes, C2)
boxes(ax, piz_fd_ar4_boxes, C4)
boxes(ax, piz_fd_ar5_boxes, C5)
loop(ax, piz_fd_ar1_u, piz_fd_ar1_f, C1)
loop(ax, piz_fd_ar2_u, piz_fd_ar2_f, C2)
loop(ax, piz_fd_ar4_u, piz_fd_ar4_f, C4)
loop(ax, piz_fd_ar5_u, piz_fd_ar5_f, C5)

ax = hyst_axes((727, 1193, 1090, 1353), (-40.4, 45.3), (-2.82, 2.89), [-40, -20, 0, 20, 40], [-2, 0, 2],
               FI, (681, 1275), (898, 1393))
loop(ax, piz_fi_ar3_u, piz_fi_ar3_f, C3, lw=0.9, marks=False)
loop(ax, piz_fi_ar1_u, piz_fi_ar1_f, C1)
loop(ax, piz_fi_ar2_u, piz_fi_ar2_f, C2)
loop(ax, piz_fi_ar4_u, piz_fi_ar4_f, C4)
loop(ax, piz_fi_ar5_u, piz_fi_ar5_f, C5)
core(ax, piz_fi_core_u, piz_fi_core_f)

fig.savefig('out.png', dpi=100)
